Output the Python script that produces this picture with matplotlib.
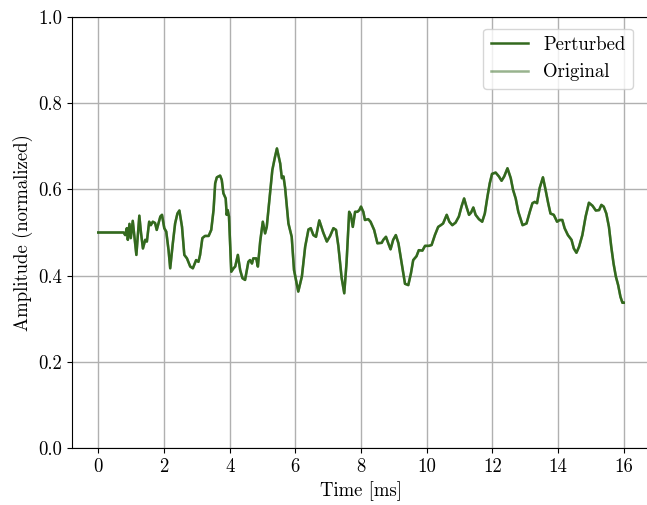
import matplotlib
matplotlib.use("Agg")
import matplotlib.pyplot as plt

plt.rcParams['font.family'] = 'serif'
plt.rcParams['font.serif'] = ['cmr10', 'DejaVu Serif']
plt.rcParams['mathtext.fontset'] = 'cm'
plt.rcParams['axes.formatter.use_mathtext'] = True
plt.rcParams['axes.unicode_minus'] = False

time_ms = [0.00, 0.72, 0.77, 0.82, 0.87, 0.90, 0.95, 0.99, 1.05, 1.16, 1.25, 1.30, 1.36, 1.43, 1.48,
           1.55, 1.60, 1.66, 1.73, 1.78, 1.89, 1.94, 2.01, 2.07, 2.14, 2.19, 2.27, 2.34, 2.41, 2.47,
           2.55, 2.62, 2.70, 2.80, 2.88, 2.98, 3.05, 3.10, 3.17, 3.25, 3.36, 3.44, 3.51, 3.56, 3.61,
           3.71, 3.76, 3.81, 3.88, 3.91, 3.94, 3.98, 4.05, 4.12, 4.17, 4.25, 4.32, 4.39, 4.47, 4.57,
           4.62, 4.68, 4.72, 4.81, 4.86, 4.93, 5.01, 5.08, 5.13, 5.23, 5.30, 5.38, 5.44, 5.54, 5.59,
           5.64, 5.69, 5.79, 5.89, 5.96, 6.09, 6.20, 6.30, 6.40, 6.47, 6.55, 6.63, 6.73, 6.85, 6.96,
           7.06, 7.16, 7.24, 7.31, 7.41, 7.49, 7.56, 7.64, 7.69, 7.75, 7.82, 7.89, 7.95, 8.00, 8.07,
           8.12, 8.22, 8.29, 8.40, 8.50, 8.63, 8.68, 8.76, 8.83, 8.90, 8.98, 9.06, 9.14, 9.24, 9.34,
           9.44, 9.52, 9.59, 9.69, 9.76, 9.87, 9.95, 10.07, 10.15, 10.25, 10.35, 10.43, 10.50, 10.61,
           10.69, 10.78, 10.88, 10.98, 11.06, 11.14, 11.21, 11.29, 11.35, 11.42, 11.49, 11.59, 11.69,
           11.77, 11.85, 11.92, 11.99, 12.10, 12.20, 12.28, 12.36, 12.46, 12.56, 12.63, 12.71, 12.79,
           12.92, 13.04, 13.14, 13.22, 13.29, 13.36, 13.44, 13.54, 13.62, 13.70, 13.77, 13.87, 13.97,
           14.05, 14.13, 14.20, 14.30, 14.41, 14.48, 14.56, 14.64, 14.74, 14.84, 14.94, 15.05, 15.15,
           15.25, 15.32, 15.39, 15.47, 15.55, 15.62, 15.69, 15.76, 15.83, 15.90, 15.96, 16.00]

amplitude_perturbed = [0.500, 0.500, 0.500, 0.494, 0.510, 0.483, 0.520, 0.487, 0.527, 0.448, 0.539, 0.500, 0.463, 0.483, 0.479,
                       0.525, 0.517, 0.525, 0.522, 0.506, 0.537, 0.541, 0.510, 0.502, 0.459, 0.417, 0.475, 0.521, 0.544, 0.551,
                       0.513, 0.448, 0.440, 0.421, 0.417, 0.436, 0.432, 0.448, 0.487, 0.492, 0.492, 0.506, 0.552, 0.614, 0.628,
                       0.632, 0.622, 0.591, 0.579, 0.541, 0.552, 0.537, 0.409, 0.417, 0.421, 0.448, 0.413, 0.394, 0.390, 0.432,
                       0.436, 0.428, 0.440, 0.440, 0.421, 0.479, 0.525, 0.498, 0.513, 0.591, 0.645, 0.675, 0.695, 0.660, 0.626,
                       0.630, 0.603, 0.521, 0.490, 0.413, 0.363, 0.398, 0.467, 0.507, 0.510, 0.494, 0.490, 0.528, 0.500, 0.479,
                       0.492, 0.510, 0.506, 0.469, 0.395, 0.359, 0.430, 0.548, 0.541, 0.513, 0.548, 0.548, 0.552, 0.560, 0.548,
                       0.529, 0.531, 0.525, 0.506, 0.475, 0.476, 0.483, 0.490, 0.475, 0.461, 0.483, 0.494, 0.475, 0.428, 0.381,
                       0.378, 0.405, 0.436, 0.445, 0.459, 0.458, 0.469, 0.469, 0.471, 0.494, 0.513, 0.517, 0.521, 0.541,
                       0.525, 0.517, 0.523, 0.537, 0.560, 0.579, 0.560, 0.541, 0.546, 0.558, 0.541, 0.531, 0.525,
                       0.544, 0.583, 0.614, 0.636, 0.639, 0.630, 0.620, 0.630, 0.649, 0.626, 0.599, 0.579, 0.548,
                       0.517, 0.521, 0.548, 0.568, 0.571, 0.568, 0.603, 0.628, 0.599, 0.568, 0.544, 0.541, 0.525,
                       0.529, 0.529, 0.510, 0.494, 0.483, 0.463, 0.453, 0.467, 0.494, 0.537, 0.569, 0.562, 0.551,
                       0.552, 0.564, 0.560, 0.544, 0.513, 0.467, 0.428, 0.398, 0.378, 0.351, 0.337, 0.337]

amplitude_original = list(amplitude_perturbed)

x_ticks = [0, 2, 4, 6, 8, 10, 12, 14, 16]
y_ticks = [0.0, 0.2, 0.4, 0.6, 0.8, 1.0]

fig = plt.figure(figsize=(6.47, 5.05), dpi=100)
ax = fig.add_axes([72 / 647, 57 / 505, 578 / 647, 431 / 505])

color = '#33691e'
ax.plot(time_ms, amplitude_original, color=color, alpha=0.5, lw=1.8, label='Original', zorder=2)
ax.plot(time_ms, amplitude_perturbed, color=color, lw=1.8, label='Perturbed', zorder=3)

handles, labels = ax.get_legend_handles_labels()
ax.legend(handles[::-1], labels[::-1], loc='upper right', fontsize=13.5, framealpha=0.8,
          borderpad=0.4, bbox_to_anchor=(0.987, 0.995))

ax.set_xlim(-0.8, 16.8)
ax.set_ylim(0, 1)
ax.set_xticks(x_ticks)
ax.set_yticks(y_ticks)
ax.set_xticklabels([str(v) for v in x_ticks])
ax.set_yticklabels([f'{v:.1f}' for v in y_ticks])
ax.tick_params(labelsize=13.5)
ax.grid(True, color='#b0b0b0', lw=1.0)
ax.set_axisbelow(True)
ax.spines['right'].set_visible(False)
ax.set_xlabel('Time [ms]', fontsize=13.5)
ax.set_ylabel('Amplitude (normalized)', fontsize=13.5)

fig.savefig('out.png', dpi=100)
